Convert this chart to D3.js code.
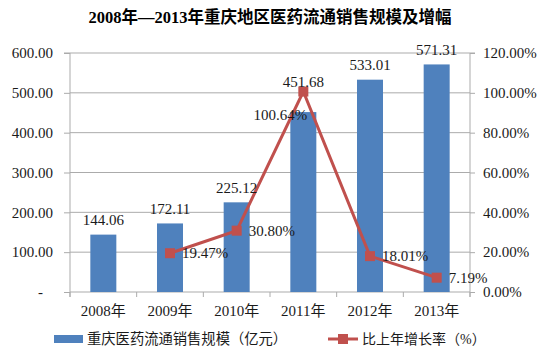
<!DOCTYPE html>
<html lang="zh">
<head>
<meta charset="UTF-8">
<script src="https://cdn.jsdelivr.net/npm/d3@7/dist/d3.min.js"></script>
<style>
  body { margin: 0; background: #fff; }
  text { font-family: "Liberation Serif", "Noto Sans CJK SC", serif; }
</style>
</head>
<body>
<script>
  const years = ["2008年", "2009年", "2010年", "2011年", "2012年", "2013年"];
  const sales = [144.06, 172.11, 225.12, 451.68, 533.01, 571.31];
  const growth = [null, 19.47, 30.80, 100.64, 18.01, 7.19];
  const leftTicks = [0, 100, 200, 300, 400, 500, 600];
  const rightTicks = [0, 20, 40, 60, 80, 100, 120];

  const W = 542, H = 353;
  const plot = { left: 70, right: 470, top: 53, bottom: 292 };
  const barColor = "#4F81BD", lineColor = "#C0504D", gridColor = "#ababab";
  const fs = 15;

  const svg = d3.select("body").append("svg")
    .attr("width", W).attr("height", H);

  const x = d3.scaleBand().domain(years).range([plot.left, plot.right]);
  const yL = d3.scaleLinear().domain([0, 600]).range([plot.bottom, plot.top]);
  const yR = d3.scaleLinear().domain([0, 120]).range([plot.bottom, plot.top]);
  const cxOf = i => x(years[i]) + x.bandwidth() / 2;

  // 标题
  svg.append("text")
    .attr("x", 270).attr("y", 23)
    .attr("text-anchor", "middle")
    .attr("font-size", 16.5).attr("font-weight", "bold")
    .text("2008年—2013年重庆地区医药流通销售规模及增幅");

  // 网格线
  svg.append("g").selectAll("line").data(leftTicks.slice(1)).enter().append("line")
    .attr("x1", plot.left).attr("x2", plot.right)
    .attr("y1", d => yL(d)).attr("y2", d => yL(d))
    .attr("stroke", gridColor).attr("stroke-width", 1);

  // 左轴
  const axL = svg.append("g").attr("transform", `translate(${plot.left},0)`)
    .call(d3.axisLeft(yL).tickValues(leftTicks).tickSize(6).tickPadding(11)
      .tickFormat(d => d === 0 ? "-" : d3.format(".2f")(d)));
  // 右轴
  const axR = svg.append("g").attr("transform", `translate(${plot.right},0)`)
    .call(d3.axisRight(yR).tickValues(rightTicks).tickSize(5).tickPadding(8)
      .tickFormat(d => d3.format(".2f")(d) + "%"));
  // 下轴
  const axB = svg.append("g").attr("transform", `translate(0,${plot.bottom})`)
    .call(d3.axisBottom(x).tickSize(0).tickPadding(13));
  axB.selectAll(".tick").append("line")
    .attr("x1", -x.step() / 2).attr("x2", -x.step() / 2)
    .attr("y1", 0).attr("y2", 5).attr("stroke", gridColor);
  axB.append("line").attr("x1", plot.right).attr("x2", plot.right)
    .attr("y1", 0).attr("y2", 5).attr("stroke", gridColor);

  [axL, axR, axB].forEach(a => {
    a.select(".domain").attr("stroke", gridColor);
    a.selectAll(".tick line").attr("stroke", gridColor);
    a.selectAll("text").attr("font-size", fs).attr("fill", "#1a1a1a")
      .attr("font-family", "'Liberation Serif', 'Noto Sans CJK SC', serif");
  });
  axB.select(".domain").attr("d", `M${plot.left},0H${plot.right}`);
  axL.select(".domain").attr("d", `M-6,${plot.top}H0V${plot.bottom + 5}`);
  axL.selectAll(".tick text").filter(d => d === 0).attr("x", -27);
  axR.select(".domain").attr("d", `M5,${plot.top}H0V${plot.bottom + 5}`);

  // 柱
  const barW = 26;
  svg.append("g").selectAll("rect").data(sales).enter().append("rect")
    .attr("x", (d, i) => cxOf(i) - barW / 2)
    .attr("y", d => yL(d))
    .attr("width", barW)
    .attr("height", d => plot.bottom - yL(d))
    .attr("fill", barColor);

  // 折线
  const pts = growth.map((v, i) => ({ v, i })).filter(p => p.v !== null);
  svg.append("path").datum(pts)
    .attr("fill", "none").attr("stroke", lineColor).attr("stroke-width", 3)
    .attr("d", d3.line().x(p => cxOf(p.i)).y(p => yR(p.v)));
  svg.append("g").selectAll("rect").data(pts).enter().append("rect")
    .attr("x", p => cxOf(p.i) - 5).attr("y", p => yR(p.v) - 5)
    .attr("width", 10).attr("height", 10).attr("fill", lineColor);

  // 柱标签（与折线点重叠时上移）
  svg.append("g").selectAll("text").data(sales).enter().append("text")
    .attr("x", (d, i) => cxOf(i))
    .attr("y", (d, i) => {
      let c = yL(d) - 14.5;
      if (growth[i] !== null && Math.abs(yR(growth[i]) - c) < 16) c = yR(growth[i]) - 10;
      return c + 5;
    })
    .attr("text-anchor", "middle").attr("font-size", fs).attr("fill", "#1a1a1a")
    .text(d => d3.format(".2f")(d));

  // 增长率标签
  svg.append("g").selectAll("text").data(pts).enter().append("text")
    .attr("x", p => p.v > 100 ? cxOf(p.i) - 23 : cxOf(p.i) + 12)
    .attr("y", p => p.v > 100 ? yR(p.v) + 28 : yR(p.v) + 5)
    .attr("text-anchor", p => p.v > 100 ? "middle" : "start")
    .attr("font-size", fs).attr("fill", "#1a1a1a")
    .text(p => d3.format(".2f")(p.v) + "%");

  // 图例
  const lg = svg.append("g");
  lg.append("rect").attr("x", 54).attr("y", 335).attr("width", 29).attr("height", 8).attr("fill", barColor);
  lg.append("text").attr("x", 87).attr("y", 344).attr("font-size", 14.3)
    .attr("font-family", "'Noto Sans CJK SC', sans-serif").attr("fill", "#1a1a1a")
    .text("重庆医药流通销售规模（亿元）");
  lg.append("line").attr("x1", 328).attr("x2", 358).attr("y1", 339).attr("y2", 339)
    .attr("stroke", lineColor).attr("stroke-width", 3);
  lg.append("rect").attr("x", 338).attr("y", 334).attr("width", 10).attr("height", 10).attr("fill", lineColor);
  lg.append("text").attr("x", 362).attr("y", 344).attr("font-size", 14)
    .attr("font-family", "'Noto Sans CJK SC', sans-serif").attr("fill", "#1a1a1a")
    .text("比上年增长率（%）");
</script>
</body>
</html>
